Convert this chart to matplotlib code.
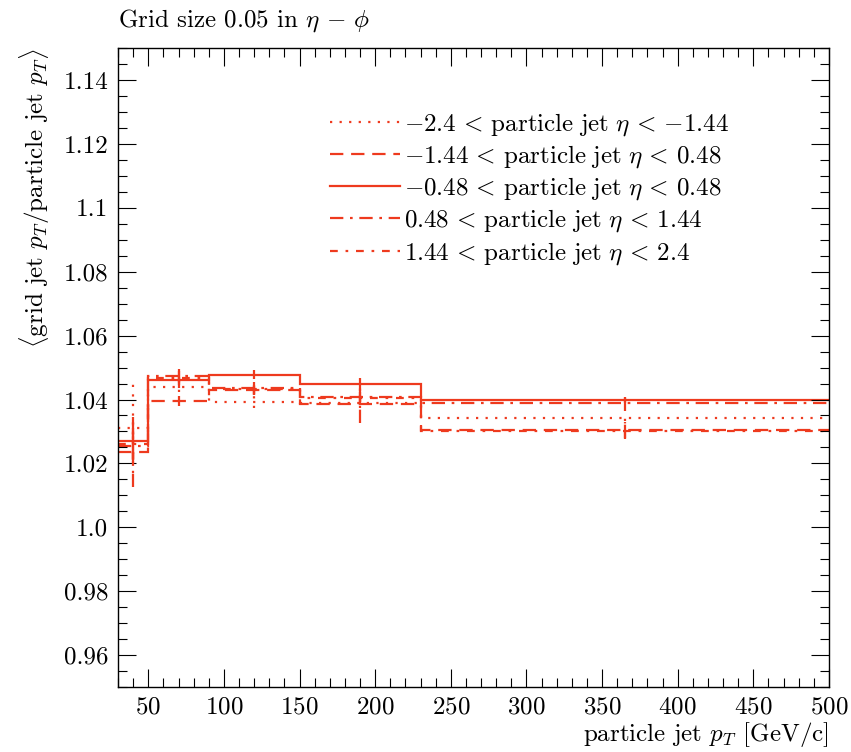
import numpy as np
import matplotlib
matplotlib.use("Agg")
import matplotlib.pyplot as plt
from matplotlib.ticker import MultipleLocator

plt.rcParams["font.family"] = ["cmr10", "DejaVu Serif"]
plt.rcParams["mathtext.fontset"] = "cm"
plt.rcParams["axes.formatter.use_mathtext"] = True

# pT bins
edges = [30, 50, 90, 150, 230, 500]
centers = [40, 70, 120, 190, 365]

labels = [
    r"$-2.4\,<\,\mathrm{particle\ jet}\ \eta\,<\,{-1.44}$",
    r"$-1.44\,<\,\mathrm{particle\ jet}\ \eta\,<\,0.48$",
    r"$-0.48\,<\,\mathrm{particle\ jet}\ \eta\,<\,0.48$",
    r"$0.48\,<\,\mathrm{particle\ jet}\ \eta\,<\,1.44$",
    r"$1.44\,<\,\mathrm{particle\ jet}\ \eta\,<\,2.4$",
]

# mean response per bin
resp_eta1 = [1.0310, 1.0440, 1.0392, 1.0388, 1.0343]
resp_eta2 = [1.0235, 1.0395, 1.0430, 1.0386, 1.0305]
resp_eta3 = [1.0270, 1.0462, 1.0478, 1.0448, 1.0398]
resp_eta4 = [1.0255, 1.0474, 1.0435, 1.0408, 1.0390]
resp_eta5 = [1.0260, 1.0466, 1.0432, 1.0405, 1.0303]

err_eta1 = [0.0140, 0.0015, 0.0020, 0.0015, 0.0010]
err_eta2 = [0.0110, 0.0016, 0.0015, 0.0060, 0.0027]
err_eta3 = [0.0060, 0.0027, 0.0015, 0.0020, 0.0010]
err_eta4 = [0.0040, 0.0020, 0.0020, 0.0015, 0.0027]
err_eta5 = [0.0050, 0.0020, 0.0015, 0.0015, 0.0027]

resp = [resp_eta1, resp_eta2, resp_eta3, resp_eta4, resp_eta5]
errs = [err_eta1, err_eta2, err_eta3, err_eta4, err_eta5]
styles = [(0, (1, 3.3)), (0, (6, 3.5)), "-", (0, (6, 3, 1.2, 3)), (0, (3.5, 3.5, 1.2, 3.5))]
col = "#ee3a1e"
fs = 18

fig = plt.figure(figsize=(8.51, 7.52), dpi=100)
ax = fig.add_axes([0.1387, 0.0864, 0.8353, 0.8496])

for r, e, ls, lab in zip(resp, errs, styles, labels):
    ax.stairs(r, edges, color=col, linestyle=ls, lw=1.6, label=lab, baseline=None)
    r = np.array(r)
    e = np.array(e)
    ax.vlines(centers, r - e, r + e, colors=col, linestyles=ls, lw=1.6)

ax.set_xlim(30, 500)
ax.set_ylim(0.95, 1.15)
ax.xaxis.set_major_locator(MultipleLocator(50))
ax.xaxis.set_minor_locator(MultipleLocator(10))
ax.yaxis.set_minor_locator(MultipleLocator(0.005))
ax.set_yticks([0.96, 0.98, 1.0, 1.02, 1.04, 1.06, 1.08, 1.1, 1.12, 1.14])
ax.set_yticklabels(["0.96", "0.98", "1.0", "1.02", "1.04", "1.06", "1.08", "1.1", "1.12", "1.14"])
ax.tick_params(which="both", direction="in", top=True, right=True, labelsize=fs)
ax.tick_params(which="major", length=13, width=0.8, pad=7)
ax.tick_params(which="minor", length=6.5, width=0.8)
for s in ax.spines.values():
    s.set_linewidth(1.0)

ax.set_xlabel(r"particle jet $p_T$ [GeV/c]", fontsize=fs, loc="right", labelpad=1)
ax.set_ylabel(r"$\langle$grid jet $p_T$/particle jet $p_T\rangle$", fontsize=fs, loc="top", labelpad=8)
fig.text(118 / 851, 1 - 27 / 752, r"Grid size 0.05 in $\eta\,-\,\phi$", fontsize=fs,
         ha="left", va="baseline")

ax.legend(loc="upper left", bbox_to_anchor=(330 / 851, 1 - 111 / 752), bbox_transform=fig.transFigure,
          frameon=False, fontsize=fs, borderpad=0, borderaxespad=0,
          handlelength=2.8, labelspacing=0.22, handletextpad=0.15)

fig.savefig("out.png", dpi=100)
